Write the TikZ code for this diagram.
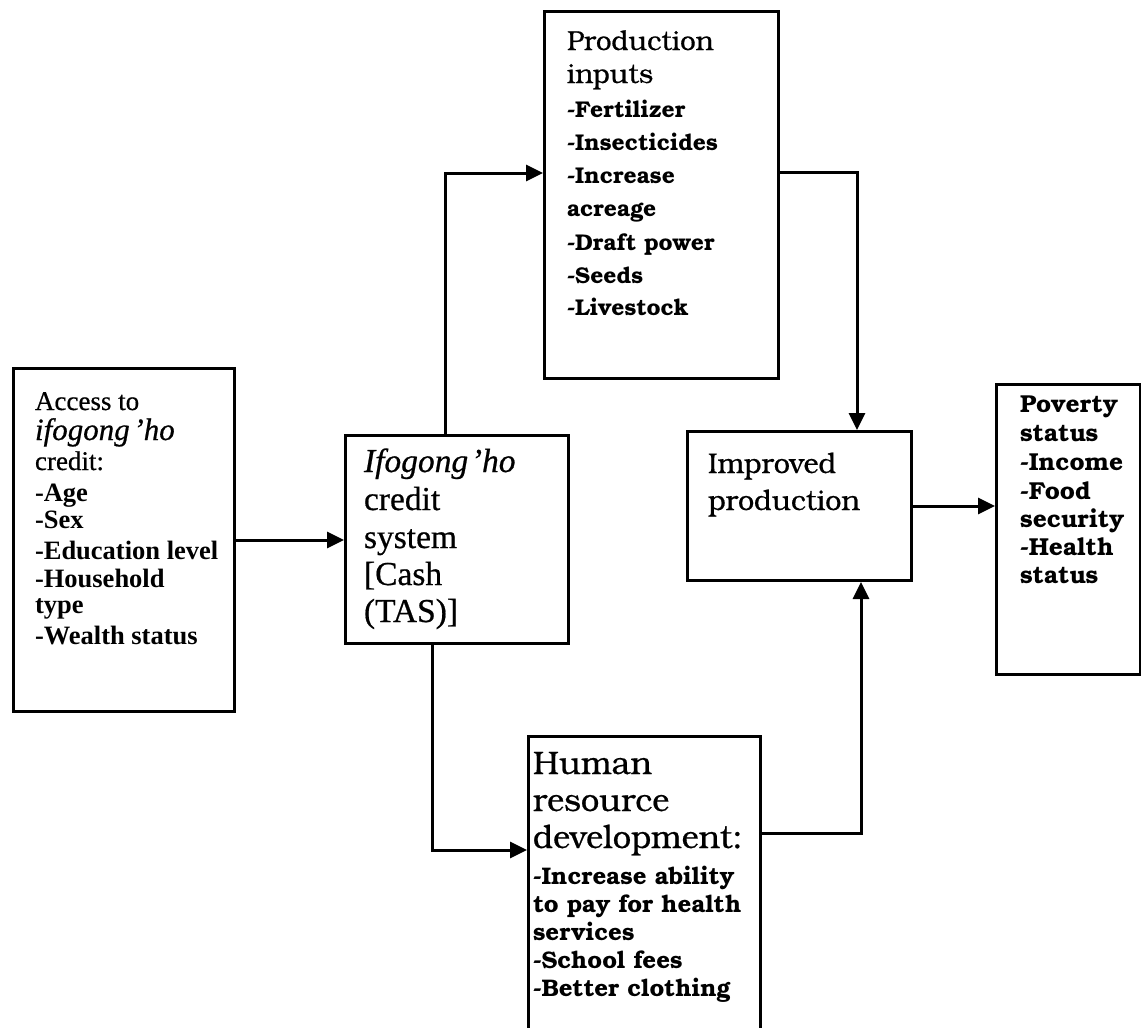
\documentclass[tikz,border=0pt]{standalone}
\usepackage{fontspec}
\setmainfont{Liberation Serif}[UprightFeatures={FakeBold=0.6},ItalicFeatures={FakeBold=0.6}]
\newfontfamily\bk{texgyrebonum}[Extension=.otf,UprightFont=*-regular,BoldFont=*-bold,ItalicFont=*-italic,BoldItalicFont=*-bolditalic,UprightFeatures={FakeBold=0.6}]
\usetikzlibrary{arrows.meta}
\newcommand\fsz[1]{\fontsize{#1}{#1}\selectfont}
\newcommand\tline[2]{\baselineskip=#1pt\relax\hbox{#2}}
\newcommand\noadj{\lineskiplimit=-1000pt\lineskip=0pt\relax}
\tikzset{
  box/.style={draw=black, line width=3pt, anchor=north west, inner sep=0pt, fill=none},
  txt/.style={anchor=base west, inner sep=0pt, outer sep=0pt},
  arr/.style={draw=black, line width=3pt, -{Triangle[length=17pt,width=16pt]}}
}
\begin{document}
\begin{tikzpicture}[x=1pt,y=-1pt]
\useasboundingbox (0,0) rectangle (1141,1028);
\fill[white] (0,0) rectangle (1141,1028);
\clip (0,0) rectangle (1141,1028);

% boxes
\node[box, minimum width=221pt, minimum height=343pt] (acc) at (12,367) {};
\node[box, minimum width=223pt, minimum height=208pt] (cred) at (344,434) {};
\node[box, minimum width=234pt, minimum height=367pt] (prod) at (543,10) {};
\node[box, minimum width=224pt, minimum height=149pt] (impr) at (686,430) {};
\node[box, minimum width=144pt, minimum height=290pt] (pov) at (995,383) {};
\node[box, minimum width=232pt, minimum height=320pt] (hum) at (527,735) {};

% texts
\node[txt] (acctext) at (35,410) {\vtop{\noadj\fsz{27}%
  \tline{30}{Access to}\tline{30}{\fsz{31}\itshape ifogong\kern0.12em’ho}\tline{30}{credit:}%
  \bfseries\fsz{26.5}%
  \tline{31}{-Age}\tline{27}{-Sex}\tline{31}{-Education level}\tline{28}{-Household}\tline{26}{type}\tline{31}{-Wealth status}}};

\node[txt] (credtext) at (364,472) {\vtop{\noadj\fsz{33.5}%
  \tline{38}{\itshape Ifogong\kern0.08em’ho}\tline{38}{credit}\tline{38}{system}\tline{37}{[Cash}\tline{37}{(TAS)]}}};

\node[txt] (prodtext) at (567,50) {\vtop{\noadj\bk\fsz{27.5}%
  \tline{33}{Production}\tline{33}{inputs}%
  \bfseries\fsz{22.8}%
  \tline{34}{-Fertilizer}\tline{33}{-Insecticides}\tline{33}{-Increase}\tline{33}{acreage}\tline{34}{-Draft power}\tline{33}{-Seeds}\tline{32}{-Livestock}}};

\node[txt] (imprtext) at (708,473) {\vtop{\noadj\bk\fsz{28.5}%
  \tline{37}{Improved}\tline{37}{production}}};

\node[txt] (povtext) at (1020,412) {\vtop{\noadj\bk\bfseries\fsz{24.5}%
  \tline{29}{Poverty}\tline{29}{status}\tline{29}{-Income}\tline{29}{-Food}\tline{28}{security}\tline{28}{-Health}\tline{28}{status}}};

\node[txt] (humtext) at (533,774) {\vtop{\noadj\bk\fsz{32.5}%
  \tline{37}{Human}\tline{37}{resource}\tline{37}{development:}%
  \bfseries\fsz{24}%
  \tline{36}{-Increase ability}\tline{28}{to pay for health}\tline{28}{services}\tline{28}{-School fees}\tline{28}{-Better clothing}}};

% connectors
\draw[arr] (acc.east) -- (acc.east -| cred.west);
\draw[arr] ([xshift=101pt]cred.north west) |- ([yshift=-163pt]prod.north west);
\draw[arr] ([yshift=-162pt]prod.north east) -| ([xshift=171pt]impr.north west);
\draw[arr] ([xshift=88pt]cred.south west) |- ([yshift=-115pt]hum.north west);
\draw[arr] ([yshift=-98pt]hum.north east) -| ([xshift=175pt]impr.south west);
\draw[arr] (impr.east) -- (impr.east -| pov.west);
\end{tikzpicture}
\end{document}
